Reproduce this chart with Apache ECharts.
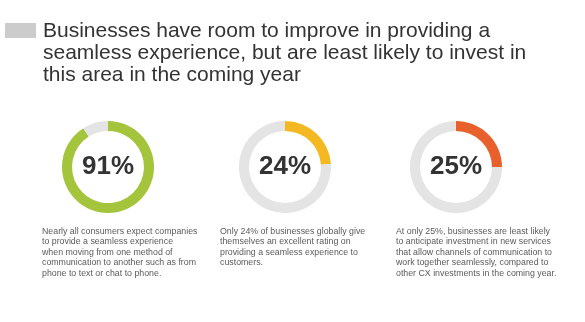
<!DOCTYPE html>
<html>
<head>
<meta charset="utf-8">
<script src="https://cdn.jsdelivr.net/npm/echarts@6/dist/echarts.min.js"></script>
<style>html,body{margin:0;padding:0;background:#fff}#c{width:585px;height:322px}</style>
</head>
<body>
<div id="c"></div>
<script>
const titleLines = [
  'Businesses have room to improve in providing a',
  'seamless experience, but are least likely to invest in',
  'this area in the coming year'
];
const percentValues = [91, 24, 25];
const ringColors = ['#a3c43b', '#f4b823', '#e8602b'];
const trackColor = '#e4e4e4';
const descriptions = [
  ['Nearly all consumers expect companies', 'to provide a seamless experience', 'when moving from one method of', 'communication to another such as from', 'phone to text or chat to phone.'],
  ['Only 24% of businesses globally give', 'themselves an excellent rating on', 'providing a seamless experience to', 'customers.'],
  ['At only 25%, businesses are least likely', 'to anticipate investment in new services', 'that allow channels of communication to', 'work together seamlessly, compared to', 'other CX investments in the coming year.']
];

const centersX = [108, 285, 456];
const centerY = 167;
const textX = [42, 220, 396];
const font = '"Liberation Sans", Arial, Helvetica, sans-serif';

const chart = echarts.init(document.getElementById('c'), null, {renderer: 'canvas'});

const series = percentValues.map((v, i) => ({
  type: 'pie',
  silent: true,
  center: [centersX[i], centerY],
  radius: [36, 46],
  startAngle: 90,
  clockwise: true,
  animation: false,
  labelLine: {show: false},
  emphasis: {disabled: true},
  data: [
    {value: v, name: 'yes', itemStyle: {color: ringColors[i]},
     label: {show: true, position: 'center', formatter: '{c}%', fontFamily: font, fontSize: 26, fontWeight: 'bold', color: '#333'}},
    {value: 100 - v, name: 'no', itemStyle: {color: trackColor}, label: {show: false}}
  ]
}));

const graphic = [
  {type: 'rect', shape: {x: 5, y: 23, width: 31, height: 15}, style: {fill: '#cccccc'}},
  {type: 'text', x: 43, y: 20, style: {text: titleLines.join('\n'), font: '21px ' + font, fill: '#333', lineHeight: 22, textVerticalAlign: 'top'}}
];
descriptions.forEach((lines, i) => {
  graphic.push({type: 'text', x: textX[i], y: 226, style: {text: lines.join('\n'), font: '8.8px ' + font, fill: '#5a5a5a', lineHeight: 10.5, textVerticalAlign: 'top'}});
});

chart.setOption({
  animation: false,
  backgroundColor: '#fff',
  series: series,
  graphic: graphic
});
</script>
</body>
</html>
